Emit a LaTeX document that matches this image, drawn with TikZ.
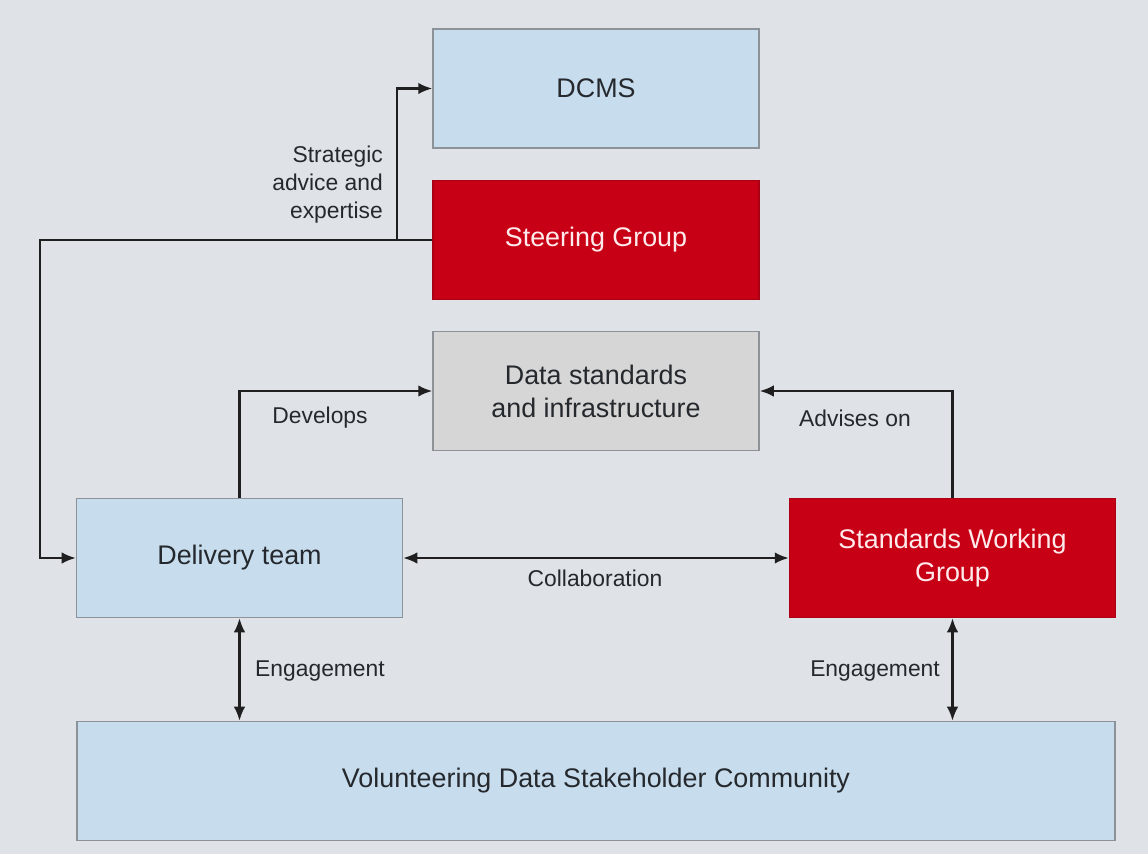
\documentclass[tikz,border=0pt]{standalone}
\usepackage{fontspec}
\setmainfont{Liberation Sans}
\usetikzlibrary{arrows.meta}
\usetikzlibrary{positioning}

\definecolor{bggray}{HTML}{DFE3E7}
\definecolor{paleblue}{HTML}{C7DDEE}
\definecolor{boxred}{HTML}{C80016}
\definecolor{boxgray}{HTML}{D6D6D6}
\definecolor{edgegray}{HTML}{8C9297}
\definecolor{inkgray}{HTML}{25292D}

\tikzset{
    box/.style={rectangle,draw=edgegray,line width=0.9pt,minimum width=6.52cm,minimum height=2.38cm,
        align=center,text=inkgray,font=\fontsize{15.3}{18.7}\selectfont},
    bluebox/.style={box,fill=paleblue},
    redbox/.style={box,fill=boxred,draw=boxred!85!black,text=white!92!red},
    graybox/.style={box,fill=boxgray},
    lbl/.style={text=inkgray,font=\fontsize{13}{15.9}\selectfont},
    conn/.style={line width=1.2pt,draw=black!88}
}

\begin{document}
\begin{tikzpicture}[x=0.02cm,y=-0.02cm,>={Latex[length=2.8mm,width=2.3mm]}]
    \fill[bggray] (0,0) rectangle (1148,854);
    \useasboundingbox (0,0) rectangle (1148,854);

    \node[bluebox] (dcms) at (596,88.5) {DCMS};
    \node[redbox] (steer) at (596,240) {Steering Group};
    \node[graybox] (data) at (596,391) {Data standards\\and infrastructure};
    \node[bluebox] (delivery) at (239.5,558) {Delivery team};
    \node[redbox] (swg) at (952.5,558) {Standards Working\\Group};
    \node[bluebox,minimum width=20.76cm] (community) at (596,781) {Volunteering Data Stakeholder Community};

    \coordinate (turn) at (40,240);
    \coordinate (fork) at (397,240);

    \draw[conn,->] (steer.west) -- (turn) |- (delivery.west);
    \draw[conn,->] (fork) |- (dcms.west);
    \draw[conn,->] (delivery.north) |- (data.west);
    \draw[conn,->] (swg.north) |- (data.east);
    \draw[conn,<->] (delivery.east) -- (swg.west);
    \draw[conn,<->] (delivery.south) -- (delivery.south |- community.north);
    \draw[conn,<->] (swg.south) -- (swg.south |- community.north);

    \node[lbl,align=right,anchor=east] (advice) at (389,185) {Strategic\\advice and\\expertise};
    \node[lbl] (develops) at (320,418) {Develops};
    \node[lbl] (advises) at (855,418) {Advises on};
    \node[lbl] (collab) at (595,578) {Collaboration};
    \node[lbl] (engleft) at (320,671) {Engagement};
    \node[lbl] (engright) at (875,671) {Engagement};
\end{tikzpicture}
\end{document}
